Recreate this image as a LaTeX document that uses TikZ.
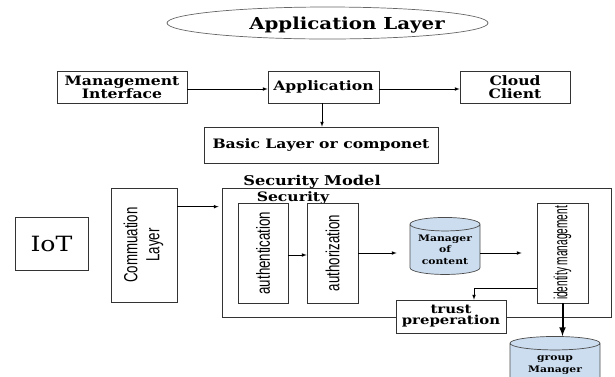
\documentclass[tikz,border=0pt]{standalone}
\usepackage{fontspec}
\setmainfont{DejaVu Serif}[FakeStretch=1.2]
\newfontfamily\narrowfont{Liberation Sans}[FakeStretch=0.7]
\usepackage{graphicx}
\usetikzlibrary{shapes.geometric}
\definecolor{dbblue}{RGB}{204,221,240}
\begin{document}
\begin{tikzpicture}[>=latex, x=1pt, y=-1pt, line width=0.7pt,
  box/.style={draw=black!80, rectangle, inner sep=0pt, align=center,
    font=\bfseries\fontsize{13}{13}\selectfont},
  vbox/.style={draw=black!80, rectangle, inner sep=0pt,
    minimum width=51pt, minimum height=100pt,
    font=\narrowfont\fontsize{19}{22}\selectfont},
  db/.style={draw=black!70, fill=dbblue, cylinder, shape border rotate=90,
    aspect=0.25, inner sep=0pt, align=center,
    font=\bfseries\fontsize{9}{11.5}\selectfont}]
  \clip (0,0) rectangle (615,376);

  % application layer
  \node[draw=black!60, ellipse, minimum width=321pt, minimum height=32pt] (layer) at (327.5,23) {};
  \node[anchor=base, font=\bfseries\fontsize{16.5}{18}\selectfont] (layertxt) at (347,29) {Application Layer};

  \node[box, minimum width=130pt, minimum height=32pt] (mi) at (122,87) {Management\\Interface};
  \node[box, minimum width=111pt, minimum height=32pt] (app) at (323.5,87) {Application};
  \node[box, minimum width=110pt, minimum height=32pt] (cc) at (515,87) {Cloud\\Client};
  \node[box, minimum width=234pt, minimum height=36pt] (basic) at (321,145) {Basic Layer or componet};

  \draw[->] ([yshift=-2pt]mi.east) -- ([yshift=-2pt]app.west);
  \draw[->] ([yshift=-2pt]app.east) -- ([yshift=-2pt]cc.west);
  \draw[->] ([xshift=-1.5pt]app.south) -- ([xshift=-1.5pt]app.south |- basic.north);

  % security model
  \node[anchor=base, font=\bfseries\fontsize{13.5}{14}\selectfont] (secmodel) at (312,185) {Security Model};
  \node[draw=black!80, minimum width=389pt, minimum height=129pt] (sec) at (416.5,252.5) {};
  \node[anchor=base, font=\bfseries\fontsize{13}{14}\selectfont] (security) at (293,201) {Security};

  \node[draw=black!80, minimum width=73pt, minimum height=53pt, font=\fontsize{21}{21}\selectfont] (iot) at (51.5,243.5) {IoT};
  \node[vbox, minimum width=66pt, minimum height=114pt] (comm) at (144,245)
    {\rotatebox{90}{\begin{tabular}{@{}c@{}}Commuation\\Layer\end{tabular}}};

  \node[vbox, minimum width=50pt] (auth) at (263,253) {\rotatebox{90}{authentication}};
  \node[vbox] (authz) at (332.5,253) {\rotatebox{90}{authorization}};
  \node[db, minimum width=70pt, minimum height=57pt] (content) at (445,249.5) {Manager\\of\\content};
  \node[vbox] (idm) at (562.5,253) {\rotatebox{90}{\scalebox{0.76}[1]{identity management}}};
  \node[box, fill=white, minimum width=110pt, minimum height=33pt,
    font=\bfseries\fontsize{12.4}{11}\selectfont] (trust) at (451,316.5) {trust\\preperation};
  \node[db, minimum width=90pt, minimum height=50pt, font=\bfseries\fontsize{9}{12}\selectfont] (group) at (555,365) {group\\Manager};

  \draw[->, shorten >=3pt] ([yshift=-19pt]comm.north east) -- ([yshift=-19pt]comm.north east -| sec.west);
  \draw[->] ([yshift=-2pt]auth.east) -- ([yshift=-2pt]authz.east -| authz.west);
  \draw[->, shorten >=13pt] (authz.east) -- (authz.east -| content.west);
  \draw[->, shorten >=15pt] (content.east |- idm.west) -- (idm.west);
  \draw[->] ([yshift=15pt]idm.south west) -| ([xshift=23pt]trust.north);
  \draw[->, line width=2pt] (idm.south) -- (idm.south |- group.north);
\end{tikzpicture}
\end{document}
